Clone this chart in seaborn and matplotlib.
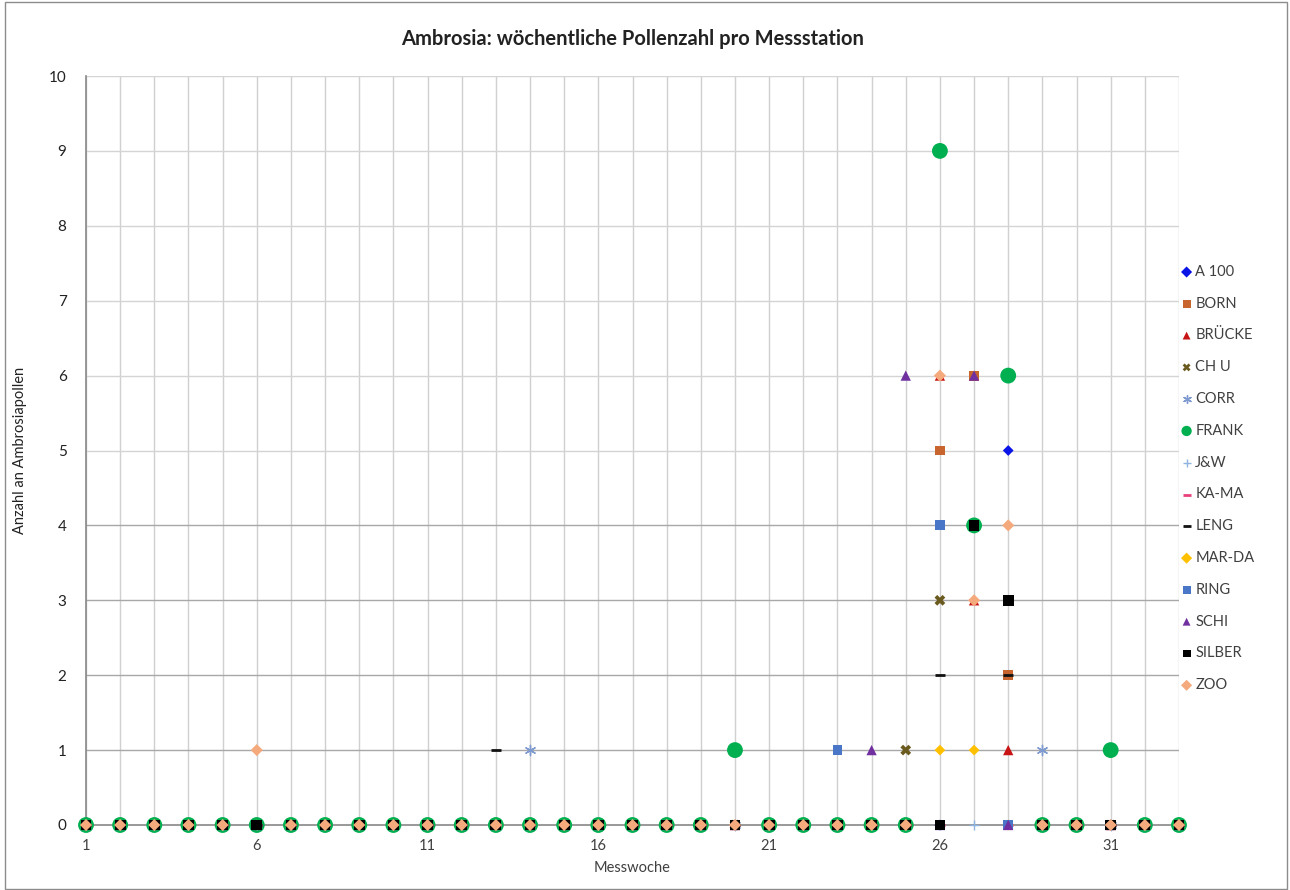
import numpy as np
import pandas as pd
import matplotlib
matplotlib.use("Agg")
import matplotlib.pyplot as plt
from matplotlib.patches import Rectangle
import seaborn as sns

nan = np.nan

# Measurement weeks 1..33
weeks = list(range(1, 34))

# Weekly ambrosia pollen counts per station (NaN = no measurement)
#          1  2  3  4  5  6  7  8  9 10 11 12 13 14 15 16 17 18 19 20 21 22 23 24 25 26   27   28 29 30 31 32 33
a100   = [0, 0, 0, 0, 0, 0, 0, 0, 0, 0, 0, 0, 0, 0, 0, 0, 0, 0, 0, 0, 0, 0, 0, 0, 0, 0, nan,   5, 0, 0, 0, 0, 0]
born   = [0, 0, 0, 0, 0, 0, 0, 0, 0, 0, 0, 0, 0, 0, 0, 0, 0, 0, 0, 0, 0, 0, 0, 0, 0, 5,   6,   2, 0, 0, 0, 0, 0]
bruecke = [0, 0, 0, 0, 0, 0, 0, 0, 0, 0, 0, 0, 0, 0, 0, 0, 0, 0, 0, 0, 0, 0, 0, 0, 0, 6,   3,   1, 0, 0, 0, 0, 0]
chu    = [0, 0, 0, 0, 0, 0, 0, 0, 0, 0, 0, 0, 0, 0, 0, 0, 0, 0, 0, 0, 0, 0, 0, 0, 1, 3, nan, nan, 0, 0, 0, 0, 0]
corr   = [0, 0, 0, 0, 0, 0, 0, 0, 0, 0, 0, 0, 0, 1, 0, 0, 0, 0, 0, 0, 0, 0, 0, 0, 0, nan, nan, nan, 1, 0, 0, 0, 0]
frank  = [0, 0, 0, 0, 0, 0, 0, 0, 0, 0, 0, 0, 0, 0, 0, 0, 0, 0, 0, 1, 0, 0, 0, 0, 0, 9,   4,   6, 0, 0, 1, 0, 0]
jw     = [0, 0, 0, 0, 0, 0, 0, 0, 0, 0, 0, 0, 0, 0, 0, 0, 0, 0, 0, 0, 0, 0, 0, 0, 0, 0,   0, nan, 0, 0, 0, 0, 0]
kama   = [0, 0, 0, 0, 0, 0, 0, 0, 0, 0, 0, 0, 0, 0, 0, 0, 0, 0, 0, 0, 0, 0, 0, 0, 0, 0, nan,   0, 0, 0, 0, 0, 0]
leng   = [0, 0, 0, 0, 0, 0, 0, 0, 0, 0, 0, 0, 1, 0, 0, 0, 0, 0, 0, 0, 0, 0, 0, 0, 0, 2, nan,   2, 0, 0, 0, 0, 0]
marda  = [0, 0, 0, 0, 0, 0, 0, 0, 0, 0, 0, 0, 0, 0, 0, 0, 0, 0, 0, 0, 0, 0, 0, 0, 0, 1,   1,   0, 0, 0, 0, 0, 0]
ring   = [0, 0, 0, 0, 0, 0, 0, 0, 0, 0, 0, 0, 0, 0, 0, 0, 0, 0, 0, 0, 0, 0, 1, 0, 0, 4, nan,   0, 0, 0, 0, 0, 0]
schi   = [0, 0, 0, 0, 0, 0, 0, 0, 0, 0, 0, 0, 0, 0, 0, 0, 0, 0, 0, 0, 0, 0, 0, 1, 6, 0,   6,   0, 0, 0, 0, 0, 0]
silber = [0, 0, 0, 0, 0, 0, 0, 0, 0, 0, 0, 0, 0, 0, 0, 0, 0, 0, 0, 0, 0, 0, 0, 0, 0, 0,   4,   3, 0, 0, 0, 0, 0]
zoo    = [0, 0, 0, 0, 0, 1, 0, 0, 0, 0, 0, 0, 0, 0, 0, 0, 0, 0, 0, 0, 0, 0, 0, 0, 0, 6,   3,   4, 0, 0, 0, 0, 0]

stations = ["A 100", "BORN", "BRÜCKE", "CH U", "CORR", "FRANK", "J&W",
            "KA-MA", "LENG", "MAR-DA", "RING", "SCHI", "SILBER", "ZOO"]
series = [a100, born, bruecke, chu, corr, frank, jw,
          kama, leng, marda, ring, schi, silber, zoo]

y_ticks = list(range(0, 11))
x_ticks = [1, 6, 11, 16, 21, 26, 31]

# Marker style per station: (marker, colour, size in points^2, filled)
styles = {
    "A 100":  ("D", "#0a14e6", 30, True),
    "BORN":   ("s", "#c8642d", 50, True),
    "BRÜCKE": ("^", "#c81414", 55, True),
    "CH U":   ("X", "#6b5a1e", 60, True),
    "CORR":   ((6, 2, 0), "#7f9ad0", 55, False),
    "FRANK":  ("o", "#00b050", 130, True),
    "J&W":    ("+", "#8eb3e0", 60, False),
    "KA-MA":  ("_", "#e8407a", 45, False),
    "LENG":   ("_", "#111111", 50, False),
    "MAR-DA": ("D", "#ffc000", 30, True),
    "RING":   ("s", "#4a76c8", 50, True),
    "SCHI":   ("^", "#7030a0", 55, True),
    "SILBER": ("s", "#000000", 60, True),
    "ZOO":    ("D", "#f4aa7c", 38, True),
}

df = pd.DataFrame({"Messwoche": np.repeat([weeks], len(stations), axis=0).ravel(),
                   "Station": np.repeat(stations, len(weeks)),
                   "Anzahl": np.concatenate([np.asarray(s, dtype=float) for s in series])})

sns.set_theme(style="white")
plt.rcParams["font.family"] = ["Lato", "DejaVu Sans"]

fig = plt.figure(figsize=(12.9, 8.9), dpi=100)
ax = fig.add_axes([86 / 1290, 65 / 890, (1179 - 86) / 1290, (825 - 76) / 890])

for st in stations:
    marker, color, size, filled = styles[st]
    sub = df[df["Station"] == st].dropna()
    kw = dict(edgecolor="none") if filled else dict(linewidth=2.0 if marker == "_" else 1.0)
    sns.scatterplot(data=sub, x="Messwoche", y="Anzahl", ax=ax, marker=marker,
                    color=color, s=size, label=st, clip_on=False, zorder=3, **kw)

ax.set_xlim(1, 33)
ax.set_ylim(0, 10)
ax.set_xticks(weeks, minor=True)
ax.set_xticks(x_ticks)
ax.set_yticks(y_ticks)
ax.tick_params(axis="x", which="both", length=0, labelsize=10.5, labelcolor="#404040", pad=10)
ax.tick_params(axis="y", length=0, labelsize=11, labelcolor="#222222", pad=14)

# grid: light vertical lines every week, horizontal lines at every count
for w in weeks:
    ax.axvline(w, color="#d0d0d0", lw=1.0, zorder=1)
for yv in y_ticks[1:]:
    ax.axhline(yv, color="#a8a8a8" if yv <= 4 else "#d4d4d4", lw=1.0, zorder=1)

for side in ("top", "right"):
    ax.spines[side].set_visible(False)
ax.spines["left"].set_color("#8c8c8c")
ax.spines["bottom"].set_color("#8c8c8c")
ax.spines["left"].set_zorder(2)
ax.spines["bottom"].set_zorder(2)

ax.set_xlabel("Messwoche", fontsize=10.5, color="#404040", labelpad=6)
ax.set_ylabel("Anzahl an Ambrosiapollen", fontsize=10.5, color="#222222", labelpad=16)
ax.set_title("Ambrosia: wöchentliche Pollenzahl pro Messstation",
             fontsize=14.5, fontweight="bold", color="#222222", pad=22)

leg = ax.legend(loc="upper left", bbox_to_anchor=(1172 / 1290, 1 - 259 / 890),
                bbox_transform=fig.transFigure, frameon=False, fontsize=10.5,
                labelspacing=1.22, handletextpad=0.0, handlelength=1.2,
                borderaxespad=0)
for txt in leg.get_texts():
    txt.set_color("#404040")
for st, handle in zip(stations, leg.legend_handles):
    handle.set_sizes([55 if st == "FRANK" else 32])

fig.patches.append(Rectangle((5 / 1290, 1 / 890), 1282 / 1290, 887 / 890,
                             transform=fig.transFigure, fill=False,
                             edgecolor="#8c8c8c", lw=1.0))

fig.savefig("out.png", dpi=100)
